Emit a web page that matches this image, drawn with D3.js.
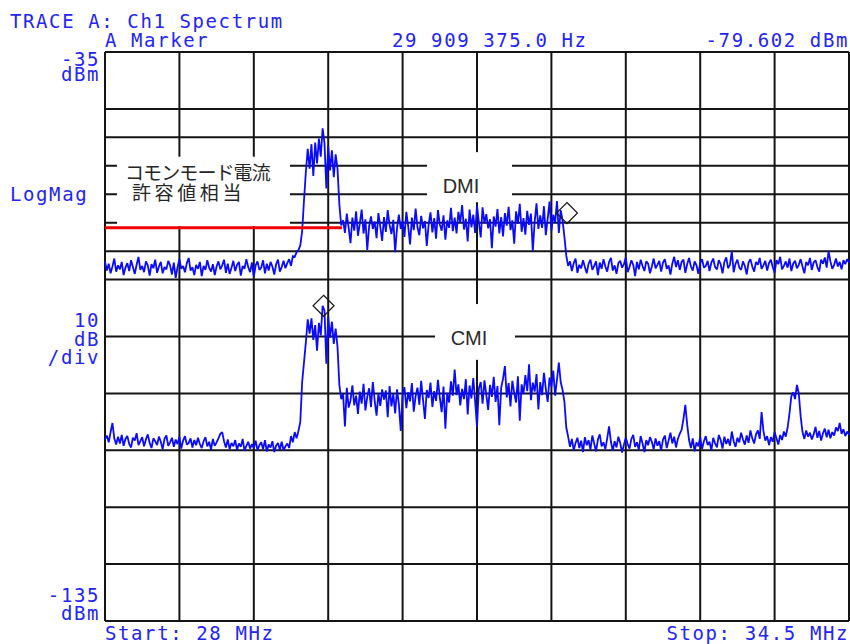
<!DOCTYPE html>
<html>
<head>
<meta charset="utf-8">
<script src="https://cdn.jsdelivr.net/npm/d3@7"></script>
<style>
  html, body { margin: 0; padding: 0; background: #ffffff; }
  #wrap { position: relative; width: 850px; height: 644px; overflow: hidden; }
  svg { display: block; position: absolute; left: 0; top: 0; }
  .jp::first-line { letter-spacing: -0.9px; }
</style>
</head>
<body>
<div id="wrap"><svg id="chart" width="850" height="644"></svg></div>
<script>
// Sweep settings: 401 points from 28 MHz to 34.5 MHz
const startMHz = 28;
const stopMHz = 34.5;
const sweepPoints = 401;
const refLevel = -35;           // top of screen, dBm
const bottomLevel = -135;       // bottom of screen, dBm

// Graticule: frequency divisions and amplitude divisions (10 dB/div)
const freqDivisions = [28, 28.65, 29.3, 29.95, 30.6, 31.25, 31.9, 32.55, 33.2, 33.85, 34.5];
const levelDivisions = [-35, -45, -55, -65, -75, -85, -95, -105, -115, -125, -135];
const halfDivisions = [-50, -60, -70];

// Upper trace: differential-mode current (DMI) spectrum, dBm
const dmiTrace = [
  -71.8,-73.4,-72.2,-73.9,-72.7,-71.3,-73.6,-72.5,-73.2,-71.9,
  -74.2,-72.9,-72.1,-73.5,-71.6,-72.8,-74.0,-72.4,-71.0,-73.3,
  -72.6,-73.7,-71.8,-72.5,-74.3,-72.3,-73.0,-71.5,-73.8,-72.7,
  -71.9,-73.9,-72.8,-73.2,-71.7,-72.5,-74.1,-72.0,-74.7,-72.8,
  -71.4,-73.1,-72.6,-73.7,-72.1,-71.2,-73.4,-72.8,-74.2,-72.4,
  -73.1,-71.9,-74.4,-72.6,-73.3,-71.6,-72.9,-73.6,-72.3,-74.2,
  -72.7,-71.8,-73.2,-72.5,-71.5,-73.8,-72.2,-74.0,-72.9,-71.7,
  -73.5,-72.4,-71.9,-74.3,-72.6,-73.1,-71.4,-72.8,-73.7,-72.0,
  -74.5,-72.5,-71.8,-73.3,-72.9,-71.6,-73.9,-72.2,-73.4,-71.9,
  -72.7,-74.1,-72.3,-71.5,-73.6,-72.8,-71.7,-73.0,-72.1,-71.4,
  -72.6,-70.9,
  -71.0,-70.2,-69.8,-69.0,-66.5,-61.0,-56.0,-52.0,-55.5,-51.2,
  -56.8,-50.9,-54.6,-50.2,-53.4,-48.4,-51.0,-59.0,-51.5,-55.8,
  -52.3,-57.0,-53.0,-55.5,-61.8,-65.5,
  -64.6,-66.8,-63.4,-65.9,-68.6,-64.1,-66.4,-63.0,-67.3,-65.1,
  -62.7,-66.9,-64.4,-69.8,-65.6,-63.9,-66.1,-64.8,-67.7,-63.3,
  -65.7,-68.2,-64.0,-66.6,-62.8,-65.4,-67.0,-64.5,-70.2,-65.9,
  -63.6,-66.1,-64.7,-67.5,-63.1,-65.6,-68.8,-64.1,-66.3,-62.5,
  -65.8,-67.2,-63.8,-66.0,-64.7,-69.1,-65.3,-63.2,-66.7,-64.2,
  -67.8,-62.8,-65.3,-66.4,-63.7,-68.0,-64.6,-65.9,-62.4,-66.5,
  -64.1,-66.9,-63.1,-65.0,-61.9,-66.2,-64.3,-68.3,-62.7,-65.8,
  -63.6,-66.8,-62.0,-64.9,-67.6,-62.3,-65.1,-63.5,-66.0,-64.4,
  -69.5,-63.9,-65.7,-62.6,-66.9,-64.0,-67.4,-63.3,-65.5,-62.2,
  -66.3,-64.6,-68.7,-63.0,-65.2,-61.7,-66.6,-64.2,-67.1,-62.9,
  -65.4,-63.4,-70.0,-64.8,-61.6,-66.1,-63.7,-65.9,-62.1,-67.2,
  -64.3,-61.3,-66.4,-63.6,-65.0,-61.2,-66.8,-62.8,-64.6,
  -67.5,-70.8,
  -72.6,-71.8,-73.5,-72.1,-71.3,-73.8,-72.4,-73.0,-71.6,-72.8,
  -73.9,-72.2,-71.5,-73.3,-72.6,-71.8,-74.2,-72.0,-73.1,-71.4,
  -72.7,-73.6,-71.9,-71.2,-73.4,-72.5,-74.0,-72.1,-71.7,-72.9,
  -72.3,-71.1,-73.7,-72.8,-71.6,-72.4,-74.4,-71.9,-73.2,-71.5,
  -72.6,-73.5,-71.8,-72.2,-73.9,-72.7,-71.3,-73.0,-72.4,-71.7,
  -73.6,-72.0,-71.4,-73.1,-72.5,-74.1,-72.2,-71.0,-72.8,-71.6,
  -73.3,-71.9,-71.5,-73.8,-72.3,-71.2,-72.7,-73.4,-71.8,-72.5,
  -74.0,-72.1,-71.4,-72.9,-72.6,-71.7,-73.5,-72.0,-71.3,-72.8,
  -73.2,-71.6,-72.3,-73.9,-71.9,-71.1,-73.0,-72.4,-70.0,-73.7,
  -72.2,-71.5,-72.9,-73.3,-71.8,-72.6,-74.1,-72.0,-71.4,-72.7,
  -73.6,-71.9,-72.4,-71.2,-73.1,-72.5,-71.7,-73.4,-72.1,-71.5,
  -72.8,-73.8,-71.6,-72.3,-71.0,-73.2,-72.6,-71.8,-72.9,-71.3,
  -73.5,-72.2,-71.7,-73.0,-72.4,-71.4,-72.7,-73.9,-71.9,-72.5,
  -71.2,-73.3,-72.0,-71.6,-72.8,-73.6,-71.5,-72.2,-71.1,-72.9,
  -70.0,-71.8,-73.1,-72.4,-71.3,-72.7,-71.9,-73.2,-71.6,-72.3,
  -71.4,-72.0
];

// Lower trace: common-mode current (CMI) spectrum, dBm
const cmiTrace = [
  -103.1,-102.4,-103.6,-101.8,-100.2,-102.9,-104.0,-102.6,-103.8,-102.3,
  -104.2,-103.0,-102.5,-103.9,-104.5,-102.8,-103.3,-102.0,-104.1,-103.4,
  -102.7,-104.3,-103.1,-102.2,-103.7,-104.6,-102.9,-103.4,-104.1,-102.6,
  -103.5,-104.8,-103.0,-102.4,-104.2,-103.6,-102.8,-104.4,-103.1,-103.9,
  -102.6,-104.7,-103.3,-102.5,-104.0,-103.7,-102.9,-104.5,-103.2,-104.1,
  -102.8,-103.9,-104.6,-103.4,-102.7,-104.3,-103.5,-104.9,-103.0,-104.2,
  -103.6,-102.9,-102.1,-101.8,-103.4,-104.5,-103.1,-104.8,-103.7,-104.3,
  -103.2,-104.9,-103.8,-104.4,-103.0,-105.1,-104.2,-103.5,-104.7,-103.9,
  -104.6,-103.3,-105.0,-104.1,-103.6,-104.8,-103.2,-105.2,-104.0,-104.5,
  -103.4,-105.3,-104.2,-103.7,-104.9,-103.5,-105.0,-104.3,-103.8,-104.6,
  -102.5,-103.6,-101.8,-102.9,-101.6,
  -100.0,-93.0,-89.5,-86.0,-82.0,-84.5,-81.8,-85.6,-83.0,-87.5,
  -82.6,-84.8,-79.6,-80.4,-89.8,-81.5,-85.2,-82.4,-86.3,-83.6,
  -86.8,-93.5,-96.0,
  -95.1,-100.8,-94.0,-97.5,-96.2,-93.6,-97.1,-95.4,-98.6,-94.7,
  -96.8,-93.3,-98.0,-95.6,-94.1,-97.4,-93.0,-96.3,-98.9,-95.0,
  -97.2,-94.3,-96.1,-94.5,-99.2,-93.7,-97.3,-95.1,-98.5,-94.3,
  -96.9,-101.6,-95.2,-93.9,-97.6,-94.8,-96.4,-93.2,-98.2,-95.5,
  -94.0,-97.0,-92.8,-96.2,-99.5,-94.4,-95.8,-93.1,-97.4,-94.6,
  -96.3,-92.6,-95.7,-98.3,-93.8,-101.2,-94.9,-96.6,-92.9,-95.4,
  -90.8,-95.3,-93.4,-97.1,-94.2,-96.0,-92.5,-98.7,-93.6,-95.9,
  -92.3,-96.4,-100.9,-94.1,-93.0,-96.8,-92.7,-95.2,-97.9,-93.5,
  -95.6,-92.1,-96.5,-93.7,-100.6,-94.0,-92.4,-90.2,-95.7,-93.2,
  -97.3,-92.8,-94.9,-96.6,-92.0,-99.8,-93.4,-95.1,-91.8,-94.6,
  -89.9,-96.2,-93.1,-94.7,-91.6,-97.8,-93.0,-95.3,-91.4,-94.2,
  -96.5,-92.2,-93.8,-91.0,-95.4,-92.6,-89.6,-93.0,-94.4,
  -96.5,-101.0,
  -102.6,-104.4,-103.0,-105.0,-103.7,-102.8,-104.6,-103.3,-105.3,-102.7,
  -104.1,-103.2,-104.9,-102.4,-103.8,-105.2,-103.1,-102.2,-104.3,-103.6,
  -104.8,-102.9,-100.8,-103.5,-105.1,-103.4,-104.5,-102.6,-103.7,-105.4,
  -104.0,-102.8,-103.9,-104.7,-103.0,-102.3,-104.4,-103.6,-104.9,-102.5,
  -103.8,-105.3,-103.2,-104.1,-102.7,-103.5,-104.8,-102.9,-104.2,-103.4,
  -105.0,-103.1,-102.4,-104.6,-103.3,-101.9,-103.8,-102.6,-104.5,-103.0,
  -102.1,-101.4,-99.5,-97.0,-100.5,-103.2,-104.6,-102.9,-105.2,-103.6,
  -104.3,-102.7,-104.8,-103.4,-102.5,-104.1,-103.5,-105.0,-102.8,-103.8,
  -104.5,-102.3,-103.2,-104.7,-102.6,-103.9,-103.0,-104.2,-101.7,-103.4,
  -104.4,-102.8,-103.6,-101.9,-103.1,-104.0,-102.4,-103.7,-101.5,-102.9,
  -103.8,-102.2,-101.5,-103.0,-98.3,-101.6,-103.3,-102.5,-104.1,-102.7,
  -103.5,-101.8,-102.9,-104.0,-102.3,-103.2,-101.7,-102.6,-101.0,-98.5,
  -95.5,-94.8,-96.0,-93.5,-95.0,-99.0,-101.8,-103.0,-101.5,-102.6,
  -101.9,-103.1,-102.2,-100.9,-102.8,-101.6,-103.3,-102.0,-101.2,-102.7,
  -101.4,-102.9,-101.8,-102.4,-101.0,-101.6,-100.2,-102.1,-101.3,-102.5,
  -101.7,-102.3
];

// Markers (frequency MHz, level dBm)
const markerFreqs = [32.036, 29.909375];
const markerLevels = [-63.3, -79.602];

// Common-mode current limit equivalent (red line)
const limitFreqs = [28, 30.07];
const limitLevels = [-65.9, -65.9];

// Texts
const headerTitle = "TRACE A: Ch1 Spectrum";
const markerTitle = "A Marker";
const markerFreqText = "29 909 375.0 Hz";
const markerLevelText = "-79.602 dBm";
const startText = "Start: 28 MHz";
const stopText = "Stop: 34.5 MHz";
const limitLabel = ["コモンモード電流", "許容値相当"];
const scaleLabel = ["10", "dB", "/div"];

const svg = d3.select("#chart");
const wrap = d3.select("#wrap");
const W = 850, H = 644;
const plotLeft = 105, plotRight = 849, plotTop = 52, plotBottom = 621;

const x = d3.scaleLinear().domain([startMHz, stopMHz]).range([plotLeft, plotRight]);
const y = d3.scaleLinear().domain([refLevel, bottomLevel]).range([plotTop, plotBottom]);
const stepMHz = (stopMHz - startMHz) / (sweepPoints - 1);

const blue = "#2424f4";
const monoFont = "'DejaVu Sans Mono', 'Liberation Mono', monospace";

svg.append("rect").attr("width", W).attr("height", H).attr("fill", "#ffffff");

// ---- graticule ----
const grid = svg.append("g").attr("stroke", "#141414").attr("stroke-width", 2).attr("fill", "none");
grid.selectAll("line.v").data(freqDivisions).join("line")
  .attr("class", "v")
  .attr("x1", d => x(d)).attr("x2", d => x(d))
  .attr("y1", y(refLevel)).attr("y2", y(bottomLevel));
grid.selectAll("line.h").data(levelDivisions.concat(halfDivisions)).join("line")
  .attr("class", "h")
  .attr("x1", x(startMHz)).attr("x2", x(stopMHz))
  .attr("y1", d => y(d)).attr("y2", d => y(d));

// ---- label backgrounds that mask the graticule ----
const boxes = [
  { f0: 28.105, f1: 29.616, v0: -53.4, v1: -65.6 },
  { f0: 30.813, f1: 31.556, v0: -52.6, v1: -61.4 },
  { f0: 30.883, f1: 31.582, v0: -79.3, v1: -89.1 }
];
svg.append("g").selectAll("rect").data(boxes).join("rect")
  .attr("x", d => x(d.f0)).attr("width", d => x(d.f1) - x(d.f0))
  .attr("y", d => y(d.v0)).attr("height", d => y(d.v1) - y(d.v0))
  .attr("fill", "#ffffff");

// ---- traces ----
const traceLine = d3.line()
  .x((d, i) => x(startMHz + i * stepMHz))
  .y(d => y(d));

svg.append("g").selectAll("path").data([dmiTrace, cmiTrace]).join("path")
  .attr("d", traceLine).attr("fill", "none")
  .attr("stroke", "#0a0aff").attr("stroke-width", 1.8)
  .attr("stroke-linejoin", "miter").attr("stroke-miterlimit", 2);

// ---- limit line ----
svg.append("line")
  .attr("x1", x(limitFreqs[0])).attr("x2", x(limitFreqs[1]))
  .attr("y1", y(limitLevels[0])).attr("y2", y(limitLevels[1]))
  .attr("stroke", "#f20000").attr("stroke-width", 3);

// ---- markers ----
svg.append("g").selectAll("path").data(markerFreqs).join("path")
  .attr("transform", (d, i) => `translate(${x(d)},${y(markerLevels[i])})`)
  .attr("d", "M0,-10.5L10.5,0L0,10.5L-10.5,0Z")
  .attr("fill", "none").attr("stroke", "#1a1a1a").attr("stroke-width", 1.2);

// ---- DMI / CMI captions ----
const mode = svg.append("g")
  .attr("font-family", "'Liberation Sans', Arial, sans-serif")
  .attr("font-size", 20).attr("fill", "#2a2a2a").attr("text-anchor", "middle");
mode.append("text").attr("x", 461).attr("y", 193).text("DMI");
mode.append("text").attr("x", 469).attr("y", 345).text("CMI");

// ---- single-line instrument texts ----
const txt = svg.append("g")
  .attr("font-family", monoFont).attr("font-size", 19)
  .attr("letter-spacing", 1.6).attr("fill", blue);
function put(str, px, py, anchor) {
  txt.append("text").attr("x", px).attr("y", py)
    .attr("text-anchor", anchor || "start").text(str);
}
put(markerFreqText, 392, 47);
put(markerLevelText, 849, 47, "end");
put("LogMag", 10, 201);
put(startText, 105, 640);
put(stopText, 849, 640, "end");

// ---- multi-line text blocks (one wrapped text each) ----
function textBlock(o) {
  const div = wrap.append("div")
    .attr("class", o.cls || null)
    .style("position", "absolute")
    .style("white-space", "pre")
    .style("font-family", o.font || monoFont)
    .style("font-size", (o.size || 19) + "px")
    .style("line-height", o.lineHeight + "px")
    .style("letter-spacing", (o.spacing == null ? 1.6 : o.spacing) + "px")
    .style("color", o.color || blue)
    .style("top", "0px");
  if (o.align === "right") {
    div.style("right", (W - o.x) + "px").style("text-align", "right");
  } else {
    div.style("left", o.x + "px");
  }
  if (o.indent) div.style("text-indent", o.indent + "px");
  // zero-size probe sits on the first baseline
  const probe = div.append("span")
    .style("display", "inline-block").style("width", "0px").style("height", "0px");
  div.node().appendChild(document.createTextNode(o.lines.join("\n")));
  const base = probe.node().getBoundingClientRect().top - wrap.node().getBoundingClientRect().top;
  div.style("top", (o.baseline - base) + "px");
}

textBlock({ lines: [headerTitle, markerTitle], x: 105, indent: -95, baseline: 28, lineHeight: 19 });
textBlock({ lines: [String(refLevel), "dBm"], x: 100, align: "right", baseline: 66, lineHeight: 15 });
textBlock({ lines: scaleLabel, x: 100, align: "right", baseline: 327, lineHeight: 18.5 });
textBlock({ lines: [String(bottomLevel), "dBm"], x: 100, align: "right", baseline: 602, lineHeight: 18 });
textBlock({
  lines: limitLabel, x: 132, indent: -7, baseline: 180, lineHeight: 20,
  font: "'Noto Sans CJK JP', 'Noto Sans CJK SC', sans-serif", size: 19,
  spacing: 3.6, color: "#262626", cls: "jp"
});
</script>
</body>
</html>
